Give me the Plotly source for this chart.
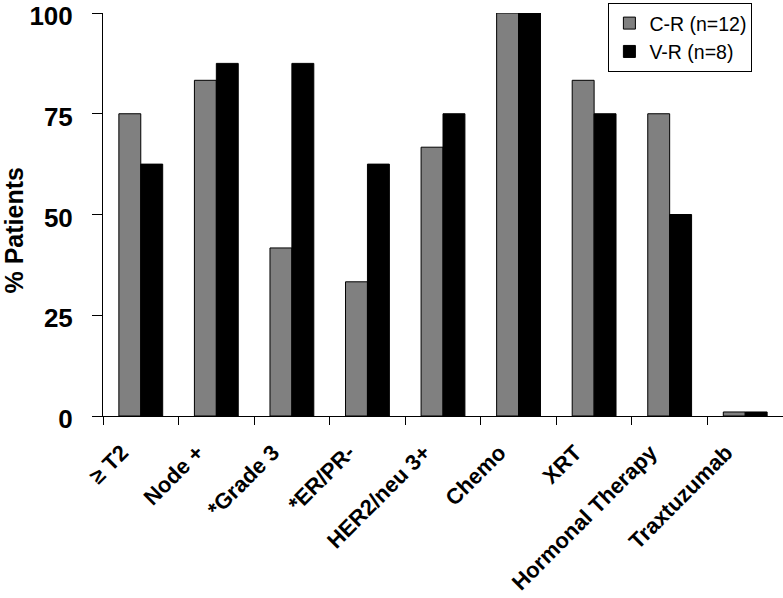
import plotly.graph_objects as go

categories = ["\u2265 T2", "Node +", "*Grade 3", "*ER/PR-", "HER2/neu 3+",
              "Chemo", "XRT", "Hormonal Therapy", "Traxtuzumab"]
cr_values = [75, 83.3, 41.7, 33.3, 66.7, 100, 83.3, 75, 1]
vr_values = [62.5, 87.5, 87.5, 62.5, 75, 100, 75, 50, 1]
y_ticks = [0, 25, 50, 75, 100]
y_title = "% Patients"

FONT = "Liberation Sans, Arial, sans-serif"

fig = go.Figure()
fig.add_trace(go.Bar(name="C-R (n=12)", x=categories, y=cr_values,
                     marker=dict(color="#808080", line=dict(color="black", width=1))))
fig.add_trace(go.Bar(name="V-R (n=8)", x=categories, y=vr_values,
                     marker=dict(color="black", line=dict(color="black", width=1))))

fig.update_layout(
    width=783, height=598,
    margin=dict(l=103, r=0, t=13, b=182),
    paper_bgcolor="white", plot_bgcolor="white",
    barmode="group", bargap=0.42, bargroupgap=0,
    font=dict(family=FONT, color="black"),
    showlegend=True,
    legend=dict(x=0.955, y=1.025, xanchor="right", yanchor="top",
                bgcolor="white", bordercolor="black", borderwidth=1,
                font=dict(size=19.5, family=FONT, color="black"),
                tracegroupgap=0),
    xaxis=dict(showline=True, linecolor="black", linewidth=1, automargin=False,
               ticks="outside", ticklen=8, tickcolor="black", tickson="boundaries",
               tickangle=-45, tickfont=dict(size=22, family=FONT, weight="bold"),
               ticklabelstandoff=14, ticklabelshift=-19, ticklabeloverflow="allow",
               showgrid=False, zeroline=False),
    yaxis=dict(range=[0, 100], tickvals=y_ticks, showline=True, linecolor="black", linewidth=1,
               automargin=False, ticklabeloverflow="allow",
               ticks="outside", ticklen=10, tickcolor="black",
               tickfont=dict(size=26, family=FONT, weight="bold"),
               ticklabelstandoff=14, ticklabelshift=3, showgrid=False, zeroline=False),
    annotations=[dict(text=y_title, xref="paper", yref="paper",
                      x=-0.131, y=0.46, xanchor="center", yanchor="middle",
                      textangle=-90, showarrow=False,
                      font=dict(size=25, family=FONT, weight="bold", color="black"))],
)

fig.write_html("out.html", config={"displayModeBar": False},
               post_script="document.body.style.margin='0px';")
